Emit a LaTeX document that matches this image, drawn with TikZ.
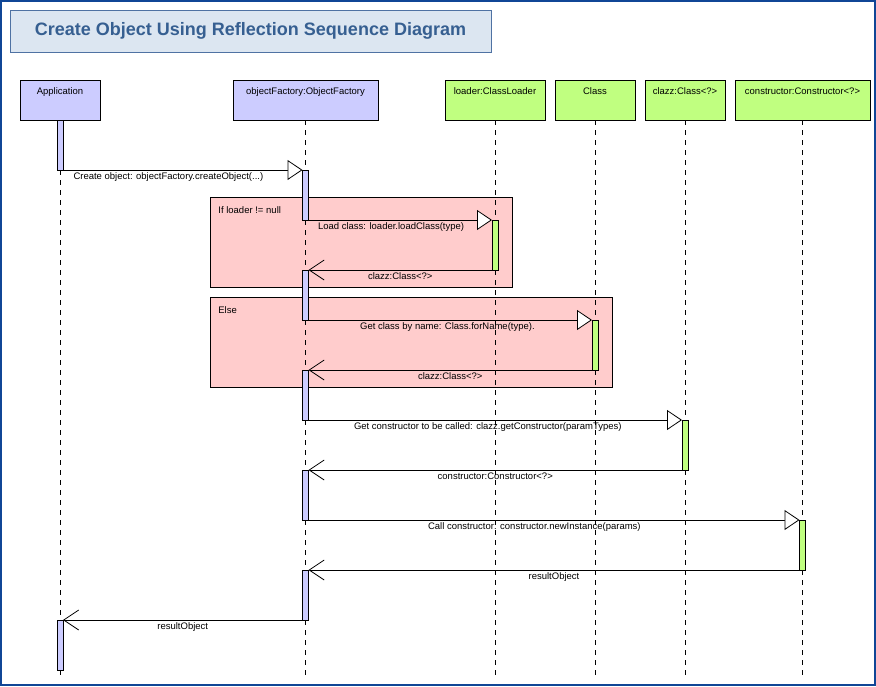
\documentclass[tikz,border=0pt]{standalone}
\usepackage{fontspec}
\setmainfont{Liberation Sans}
\usepackage{xcolor}
\usetikzlibrary{arrows.meta}

\definecolor{titlefill}{RGB}{220,230,241}
\definecolor{titledraw}{RGB}{79,114,163}
\definecolor{titletext}{RGB}{54,95,145}
\definecolor{frameblue}{RGB}{16,70,150}
\definecolor{objblue}{RGB}{204,204,255}
\definecolor{objgreen}{RGB}{192,255,128}
\definecolor{fragpink}{RGB}{255,204,204}

\begin{document}
\begin{tikzpicture}[x=1pt,y=-1pt,line width=0.8pt,font=\fontsize{9.5}{11}\selectfont]
  \tikzstyle{title}=[draw=titledraw,fill=titlefill,line width=1pt,minimum width=481pt,minimum height=42pt,text=titletext,font=\fontsize{18}{20}\selectfont\bfseries]
  \tikzstyle{object}=[draw,anchor=north,minimum height=40pt,text height=12pt,text depth=23pt,inner ysep=2.5pt,inner xsep=0pt,outer sep=0pt]
  \tikzstyle{lifeline}=[dash pattern=on 5pt off 5pt]
  \tikzstyle{bar}=[draw,minimum width=6pt,minimum height=50pt,inner sep=0pt,outer sep=0pt]
  \tikzstyle{fragment}=[draw,fill=fragpink,inner sep=0pt,outer sep=0pt]
  \tikzstyle{fraglabel}=[anchor=north west,inner sep=1pt]
  \tikzstyle{call}=[-{Triangle[length=15pt,width=20pt,fill=white]}]
  \tikzstyle{reply}=[-{Straight Barb[length=15pt,width=20pt]}]
  \tikzstyle{msg}=[below,inner sep=2.5pt]

  \useasboundingbox (0,0) rectangle (876,686);
  \draw[frameblue,line width=2pt] (1,1) rectangle (875,685);

  \node[title] (title) at (250.5,31) {Create Object Using Reflection Sequence Diagram};

  % combined fragments
  \node[fragment,minimum width=302pt,minimum height=90pt] (ifbox) at (361,242) {};
  \node[fraglabel] (iflabel) at ([shift={(7,8)}]ifbox.north west) {If loader != null};
  \node[fragment,minimum width=402pt,minimum height=90pt] (elsebox) at (411,342) {};
  \node[fraglabel] (elselabel) at ([shift={(7,8)}]elsebox.north west) {Else};

  % objects
  \node[object,fill=objblue,minimum width=80pt]   (app)     at (60,80)    {Application};
  \node[object,fill=objblue,minimum width=145pt]  (factory) at (305.5,80) {objectFactory:ObjectFactory};
  \node[object,fill=objgreen,minimum width=100pt] (loader)  at (495,80)   {loader:ClassLoader};
  \node[object,fill=objgreen,minimum width=80pt]  (cls)     at (595,80)   {Class};
  \node[object,fill=objgreen,minimum width=80pt]  (clazz)   at (685,80)   {clazz:Class<?>};
  \node[object,fill=objgreen,minimum width=135pt] (ctor)    at (802.5,80) {constructor:Constructor<?>};

  % lifelines
  \coordinate (app-end)     at (60,675);
  \coordinate (factory-end) at (305.5,675);
  \coordinate (loader-end)  at (495,675);
  \coordinate (cls-end)     at (595,675);
  \coordinate (clazz-end)   at (685,675);
  \coordinate (ctor-end)    at (802.5,675);
  \draw[lifeline] (app.south) -- (app-end);
  \draw[lifeline] (factory.south) -- (factory-end);
  \draw[lifeline] (loader.south) -- (loader-end);
  \draw[lifeline] (cls.south) -- (cls-end);
  \draw[lifeline] (clazz.south) -- (clazz-end);
  \draw[lifeline] (ctor.south) -- (ctor-end);

  % activations
  \node[bar,fill=objblue]  (a1) at (60,145)    {};
  \node[bar,fill=objblue]  (f1) at (305.5,195) {};
  \node[bar,fill=objgreen] (l1) at (495,245)   {};
  \node[bar,fill=objblue]  (f2) at (305.5,295) {};
  \node[bar,fill=objgreen] (c1) at (595,345)   {};
  \node[bar,fill=objblue]  (f3) at (305.5,395) {};
  \node[bar,fill=objgreen] (z1) at (685,445)   {};
  \node[bar,fill=objblue]  (f4) at (305.5,495) {};
  \node[bar,fill=objgreen] (k1) at (802.5,545) {};
  \node[bar,fill=objblue]  (f5) at (305.5,595) {};
  \node[bar,fill=objblue]  (a2) at (60,645)    {};

  % messages
  \path
    (a1.south east) edge[call]  node[msg,pos=.44] {Create object: objectFactory.createObject(...)} (f1.north west)
    (f1.south east) edge[call]  node[msg,pos=.45] {Load class: loader.loadClass(type)} (l1.north west)
    (l1.south west) edge[reply] node[msg] {clazz:Class<?>} (f2.north east)
    (f2.south east) edge[call]  node[msg,pos=.49] {Get class by name: Class.forName(type).} (c1.north west)
    (c1.south west) edge[reply] node[msg] {clazz:Class<?>} (f3.north east)
    (f3.south east) edge[call]  node[msg,pos=.48] {Get constructor to be called: clazz.getConstructor(paramTypes)} (z1.north west)
    (z1.south west) edge[reply] node[msg] {constructor:Constructor<?>} (f4.north east)
    (f4.south east) edge[call]  node[msg,pos=.46] {Call constructor: constructor.newInstance(params)} (k1.north west)
    (k1.south west) edge[reply] node[msg] {resultObject} (f5.north east)
    (f5.south west) edge[reply] node[msg] {resultObject} (a2.north east);
\end{tikzpicture}
\end{document}
